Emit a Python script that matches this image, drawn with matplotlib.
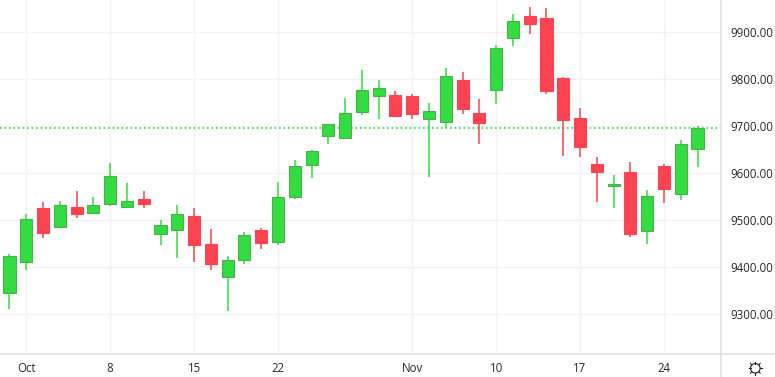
#!/usr/bin/env python

import numpy as np
import matplotlib
matplotlib.use('Agg')
import matplotlib.pyplot as plt
from matplotlib.lines import Line2D
from matplotlib.patches import Circle

plt.rcParams['font.family'] = ['Open Sans', 'DejaVu Sans']

opens = [9345.1, 9411.2, 9525.6, 9485.8, 9527.8, 9515.7, 9534.9, 9528.5, 9544.8, 9470.9, 9479.4,
         9508.6, 9448.9, 9379.2, 9415.5, 9478.7, 9453.7, 9549.8, 9618.0, 9679.8, 9675.6,
         9731.0, 9765.1, 9766.6, 9764.4, 9716.1, 9709.7, 9798.5, 9728.2, 9777.9, 9888.8,
         9935.0, 9930.7, 9802.8, 9717.5, 9619.4, 9573.2, 9602.3, 9477.3, 9615.1, 9556.1, 9652.1]
closes = [9422.6, 9501.5, 9473.0, 9531.3, 9513.5, 9531.3, 9593.2, 9540.6, 9534.9, 9488.7, 9512.8,
          9446.8, 9406.2, 9414.1, 9467.4, 9451.0, 9549.0, 9614.5, 9646.4, 9704.0, 9727.5,
          9776.5, 9780.8, 9722.5, 9726.0, 9731.7, 9806.4, 9736.7, 9706.9, 9866.0, 9923.6,
          9917.9, 9775.1, 9713.2, 9655.7, 9602.3, 9577.5, 9470.1, 9550.5, 9566.1, 9661.3, 9695.4]
highs = [9427.6, 9512.8, 9538.4, 9540.6, 9561.9, 9549.1, 9621.6, 9578.9, 9561.9, 9500.8, 9532.0,
         9525.6, 9480.9, 9423.3, 9474.5, 9483.0, 9581.0, 9628.0, 9649.3, 9704.0, 9760.2,
         9819.9, 9798.5, 9775.1, 9768.7, 9749.5, 9824.1, 9815.6, 9758.0, 9873.2, 9939.3,
         9954.2, 9952.0, 9804.9, 9738.8, 9634.3, 9596.0, 9623.6, 9564.0, 9619.4, 9670.6, 9700.4]
lows = [9310.3, 9393.4, 9461.7, 9483.0, 9504.3, 9512.8, 9530.0, 9528.5, 9525.6, 9446.8, 9419.0,
        9410.5, 9393.4, 9306.0, 9406.2, 9438.0, 9447.0, 9544.8, 9589.6, 9662.1, 9672.7,
        9723.9, 9715.4, 9719.6, 9715.4, 9591.7, 9696.2, 9726.0, 9662.1, 9747.4, 9871.0,
        9896.6, 9768.7, 9636.5, 9634.4, 9538.4, 9525.6, 9463.7, 9448.8, 9536.2, 9542.6, 9613.0]
last_price = 9696
price_ticks = [9300, 9400, 9500, 9600, 9700, 9800, 9900]
date_pos = [1, 6, 11, 16, 24, 29, 34, 39]
date_labels = ['Oct', '8', '15', '22', 'Nov', '10', '17', '24']

up_color = '#32DC41'
up_edge = '#4CAF50'
down_color = '#FC4352'
grid_color = '#F1F2F5'
line_color = '#DEDFE2'
text_color = '#2A2A2A'

W, H = 775, 377
fig = plt.figure(figsize=(W / 100, H / 100), dpi=100)
ax = fig.add_axes([0, (H - 354) / H, 720.5 / W, 354 / H])
ax.set_xlim(-0.566, 42.37)
ax.set_ylim(9214.3, 9969.1)

ax.set_axisbelow(True)
ax.grid(color=grid_color, lw=1)
ax.axhline(last_price, color=up_color, lw=1.2, ls=(0, (1, 1.7)), zorder=1.5)

for i in range(len(opens)):
    up = closes[i] >= opens[i]
    fill = up_color if up else down_color
    edge = up_edge if up else down_color
    ax.vlines(i, lows[i], highs[i], color=fill, lw=1.1, zorder=2)
    ax.bar(i, abs(closes[i] - opens[i]), bottom=min(opens[i], closes[i]), width=0.72,
           color=fill, edgecolor=edge, lw=0.8, zorder=3)

for s in ['top', 'left']:
    ax.spines[s].set_visible(False)
for s in ['right', 'bottom']:
    ax.spines[s].set_color(line_color)
    ax.spines[s].set_linewidth(1.1)

ax.yaxis.tick_right()
ax.set_yticks(price_ticks)
ax.set_yticklabels(['{:.2f}'.format(p) for p in price_ticks])
ax.set_xticks(date_pos)
ax.set_xticklabels(date_labels)
ax.tick_params(length=0, labelsize=8.3, labelcolor=text_color)
ax.tick_params(axis='y', pad=7.2)
ax.tick_params(axis='x', pad=6)

# axis border runs on past the bottom axis, and the bottom line on to the edge
fig.add_artist(Line2D([720.5 / W, 720.5 / W], [0, (H - 354) / H], color=line_color, lw=1.1))
fig.add_artist(Line2D([720.5 / W, 1], [(H - 354) / H] * 2, color=line_color, lw=1.1))

# settings icon
cx, cy, r = 755.3, H - 368.3, 4.8
fig.add_artist(Circle((cx, cy), r, transform=None, fill=False, ec='#222222', lw=0.8))
for a in np.arange(8) * np.pi / 4:
    fig.add_artist(Line2D([cx + r * np.cos(a), cx + (r + 2.0) * np.cos(a)],
                          [cy + r * np.sin(a), cy + (r + 2.0) * np.sin(a)],
                          transform=None, color='#222222', lw=0.8))

fig.savefig('out.png', dpi=100)
